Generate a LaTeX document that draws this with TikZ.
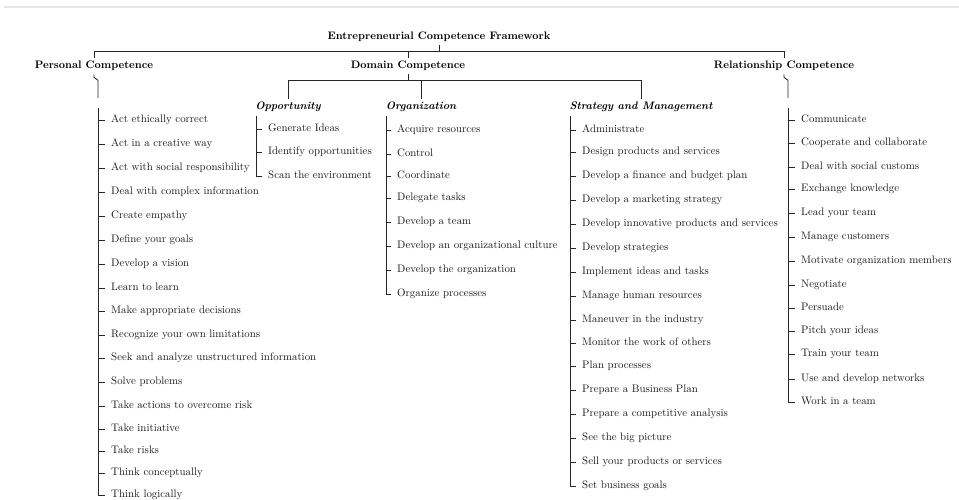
\documentclass[tikz,border=0pt]{standalone}
\usetikzlibrary{calc}
\tikzset{tree/.style={draw=black!85, line width=0.8pt},
  tick/.style={tree, shorten >=5.5pt},
  head/.style={font=\bfseries, inner xsep=1pt, inner ysep=3pt, text height=7pt, text depth=2pt},
  sub/.style={font=\bfseries\itshape, inner xsep=1pt, inner ysep=3pt, text height=7pt, text depth=2pt},
  leaf/.style={anchor=west, inner sep=0pt, text=black!90, text height=7pt, text depth=2pt}}

\begin{document}
\begin{tikzpicture}[x=0.9208pt, y=-0.9208pt]
   \useasboundingbox (0,0) rectangle (959,499);
   \draw[black!10, line width=1pt] (4,7) -- (959,7);
   \begin{scope}[yshift=-1.8pt]
   % root and first level
   \node[head] (ecf) at (439,35) {Entrepreneurial Competence Framework};
   \node[head] (pc) at (94,64) {Personal Competence};
   \node[head] (dc) at (408,64) {Domain Competence};
   \node[head] (rc) at (784,64) {Relationship Competence};
   \coordinate (bar) at (0,49);
   \draw[tree] (ecf.south) -- (ecf.south |- bar);
   \draw[tree] (pc.north) -- (pc.north |- bar) -- (rc.north |- bar) -- (rc.north);
   \draw[tree] (dc.north) -- (dc.north |- bar);
   % domain competence
   \node[sub] (opp) at (288,105) {Opportunity};
   \node[sub] (org) at (421,105) {Organization};
   \node[sub] (sm) at (641,105) {Strategy and Management};
   \coordinate (bar2) at (0,78);
   \draw[tree] (dc.south) -- (dc.south |- bar2);
   \draw[tree] (opp.north) -- (opp.north |- bar2) -- (sm.north |- bar2) -- (sm.north);
   \draw[tree] (org.north) -- (org.north |- bar2);
   % personal competence
   \coordinate (pc-hub) at (98,96);
   \coordinate (pc-top) at (98,106);
   \draw[tree] (pc.south) -- ++(0,3) -- ++(4,3) -- (pc-hub);
   \foreach \y/\t [count=\i] in {118/Act ethically correct, 142/Act in a creative way,
       166/Act with social responsibility, 190/Deal with complex information,
       214/Create empathy, 238/Define your goals, 262/Develop a vision, 286/Learn to learn,
       309/Make appropriate decisions, 333/Recognize your own limitations,
       356/Seek and analyze unstructured information, 380/Solve problems,
       404/Take actions to overcome risk, 427/Take initiative, 449/Take risks,
       471/Think conceptually, 493/Think logically} {
     \node[leaf] (p\i) at (111,\y) {\t};
     \draw[tick] (pc-top |- p\i.west) -- (p\i.west);
   }
   \draw[tree] (pc-top) -- (pc-top |- p17.west);
   % opportunity
   \coordinate (opp-top) at (256,114);
   \foreach \y/\t [count=\i] in {127/Generate Ideas, 150/Identify opportunities,
       174/Scan the environment} {
     \node[leaf] (o\i) at (268,\y) {\t};
     \draw[tick] (opp-top |- o\i.west) -- (o\i.west);
   }
   \draw[tree] (opp-top) -- (opp-top |- o3.west);
   % organization
   \coordinate (org-top) at (386,114);
   \foreach \y/\t [count=\i] in {128/Acquire resources, 152/Control, 174/Coordinate,
       196/Delegate tasks, 220/Develop a team, 244/Develop an organizational culture,
       268/Develop the organization, 292/Organize processes} {
     \node[leaf] (g\i) at (397,\y) {\t};
     \draw[tick] (org-top |- g\i.west) -- (g\i.west);
   }
   \draw[tree] (org-top) -- (org-top |- g8.west);
   % strategy and management
   \coordinate (sm-top) at (570,114);
   \foreach \y/\t [count=\i] in {128/Administrate, 150/Design products and services,
       174/Develop a finance and budget plan, 198/Develop a marketing strategy,
       222/Develop innovative products and services, 246/Develop strategies,
       270/Implement ideas and tasks, 294/Manage human resources,
       318/Maneuver in the industry, 341/Monitor the work of others, 364/Plan processes,
       388/Prepare a Business Plan, 412/Prepare a competitive analysis,
       436/See the big picture, 460/Sell your products or services,
       484/Set business goals} {
     \node[leaf] (s\i) at (582,\y) {\t};
     \draw[tick] (sm-top |- s\i.west) -- (s\i.west);
   }
   \draw[tree] (sm-top) -- (sm-top |- s16.west);
   % relationship competence
   \coordinate (rc-hub) at (788,96);
   \coordinate (rc-top) at (788,106);
   \draw[tree] (rc.south) -- ++(0,3) -- ++(4,3) -- (rc-hub);
   \foreach \y/\t [count=\i] in {118/Communicate, 141/Cooperate and collaborate,
       165/Deal with social customs, 187/Exchange knowledge, 211/Lead your team,
       235/Manage customers, 259/Motivate organization members, 283/Negotiate,
       306/Persuade, 329/Pitch your ideas, 352/Train your team,
       377/Use and develop networks, 400/Work in a team} {
     \node[leaf] (r\i) at (801,\y) {\t};
     \draw[tick] (rc-top |- r\i.west) -- (r\i.west);
   }
   \draw[tree] (rc-top) -- (rc-top |- r13.west);
   \end{scope}
\end{tikzpicture}
\end{document}
